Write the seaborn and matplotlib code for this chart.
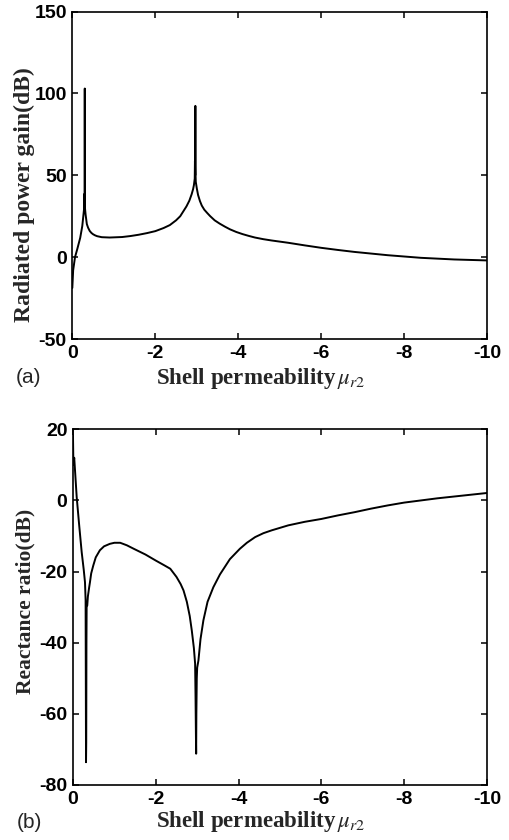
import numpy as np
import pandas as pd
import matplotlib
matplotlib.use("Agg")
import matplotlib.pyplot as plt
import seaborn as sns

# ---- data ----
gain_mu = [0.0, 0.02, 0.065, 0.12, 0.19, 0.24, 0.27, 0.285, 0.29, 0.295, 0.30, 0.305,
           0.32, 0.35, 0.38, 0.42, 0.46, 0.5, 0.55, 0.6, 0.71, 0.9, 1.2, 1.4, 1.6, 1.8,
           2.0, 2.2, 2.35, 2.5, 2.6, 2.68, 2.75, 2.82, 2.875, 2.91,
           2.93, 2.95, 2.955, 2.96, 2.965, 2.97, 2.975, 3.0, 3.03, 3.075, 3.12, 3.18,
           3.25, 3.32, 3.43, 3.55, 3.68, 3.8, 3.95, 4.1, 4.25, 4.4, 4.6, 4.8, 5.2, 5.6,
           6.0, 6.4, 6.8, 7.2, 7.6, 8.0, 8.4, 8.8, 9.2, 9.6, 10.0]
gain_db = [-18.8, -8.0, 0.0, 5.0, 11.8, 19.0, 26.3, 30.0, 38.6, 28.0, 103.0, 30.0,
           26.0, 20.2, 18.0, 16.0, 14.8, 14.0, 13.3, 12.8, 12.2, 12.0, 12.3, 12.9, 13.7, 14.7,
           15.9, 17.8, 19.6, 22.5, 25.0, 28.2, 31.0, 34.5, 38.4, 41.5,
           44.0, 48.0, 58.7, 50.0, 92.4, 50.0, 46.0, 42.0, 38.0, 34.3, 31.5, 29.0,
           27.0, 25.1, 22.5, 20.5, 18.6, 17.0, 15.4, 14.1, 13.0, 12.0, 11.0, 10.2, 8.8, 7.2,
           5.7, 4.4, 3.2, 2.2, 1.2, 0.4, -0.4, -0.9, -1.4, -1.7, -2.0]

react_mu = [0.0, 0.01, 0.03, 0.09, 0.15, 0.21, 0.26, 0.29, 0.305, 0.31, 0.315, 0.32,
            0.325, 0.33, 0.345, 0.36, 0.39, 0.41, 0.44, 0.49, 0.55, 0.65, 0.75, 0.89,
            1.0, 1.14, 1.3, 1.47, 1.75, 2.0, 2.2, 2.35, 2.5, 2.6, 2.67, 2.75, 2.82,
            2.87, 2.92, 2.95, 2.96, 2.97, 2.975, 2.98, 2.99, 3.0, 3.03, 3.08, 3.15,
            3.25, 3.39, 3.55, 3.79, 4.03, 4.2, 4.4, 4.6, 4.8, 5.2, 5.6, 6.0, 6.4, 6.8,
            7.2, 7.6, 8.0, 8.4, 8.8, 9.2, 9.6, 10.0]
react_db = [18.3, 10.0, 12.0, 0.9, -7.0, -14.5, -19.5, -23.0, -28.0, -50.0, -73.6, -68.0,
            -40.0, -30.0, -29.5, -27.0, -24.5, -23.0, -20.5, -18.3, -16.0, -14.0, -12.9, -12.2,
            -11.9, -11.9, -12.6, -13.6, -15.2, -16.9, -18.2, -19.2, -21.5, -23.5, -25.3, -28.5, -32.5,
            -36.6, -41.5, -45.9, -55.0, -66.6, -71.2, -60.0, -50.0, -47.0, -45.0, -39.0, -33.7,
            -28.5, -24.4, -20.8, -16.5, -13.6, -11.9, -10.3, -9.2, -8.4, -7.0, -6.0, -5.2, -4.2, -3.3,
            -2.3, -1.4, -0.6, 0.0, 0.6, 1.1, 1.6, 2.1]

x_ticks = [0, -2, -4, -6, -8, -10]
gain_ticks = [-50, 0, 50, 100, 150]
react_ticks = [-80, -60, -40, -20, 0, 20]

xlabel_text = "Shell permeability" + r"$\,\mu_{r2}$"
ylabel_a = "Radiated power gain(dB)"
ylabel_b = "Reactance ratio(dB)"

df_a = pd.DataFrame({"mu": [-v for v in gain_mu], "db": gain_db})
df_b = pd.DataFrame({"mu": [-v for v in react_mu], "db": react_db})

sns.set_style("ticks")
plt.rcParams["font.family"] = ["Liberation Sans", "DejaVu Sans"]
plt.rcParams["mathtext.fontset"] = "stix"

fig = plt.figure(figsize=(5.1, 8.4), dpi=100)
ax1 = fig.add_axes([0.1418, 0.5964, 0.8137, 0.3898])
ax2 = fig.add_axes([0.1431, 0.0655, 0.8118, 0.4234])

serif = ["Liberation Serif", "DejaVu Serif"]

for ax, df, yt, ylab, ylim, ly, ysize, xl_y in [
    (ax1, df_a, gain_ticks, ylabel_a, (-50, 150), 0.44, 17, 379),
    (ax2, df_b, react_ticks, ylabel_b, (-80, 20), 0.517, 15.5, 822),
]:
    sns.lineplot(data=df, x="mu", y="db", ax=ax, color="black", linewidth=1.4,
                 estimator=None, sort=False)
    ax.set_xlim(0, -10)
    ax.set_ylim(*ylim)
    ax.set_xticks(x_ticks)
    ax.set_yticks(yt)
    ax.set_xticklabels([str(t) for t in x_ticks])
    ax.set_yticklabels([str(t) for t in yt])
    for lab in ax.get_xticklabels() + ax.get_yticklabels():
        lab.set_fontweight("bold")
        lab.set_fontsize(14)
    ax.tick_params(direction="in", length=4.5, width=1.1, top=True, right=True,
                   pad=4, colors="black")
    for s in ax.spines.values():
        s.set_visible(True)
        s.set_linewidth(1.2)
        s.set_color("black")
    ax.set_xlabel(xlabel_text, family=serif, weight="bold", size=16.5, va="center")
    ax.xaxis.set_label_coords(261 / 510, 1 - xl_y / 840, transform=fig.transFigure)
    ax.set_ylabel(ylab, family=serif, weight="bold", size=ysize)
    ax.yaxis.set_label_coords(-0.09, ly)

fig.text(29 / 510, 1 - 378 / 840, "(a)", fontsize=15, ha="center", va="center",
         family=["Liberation Sans", "DejaVu Sans"])
fig.text(29 / 510, 1 - 822 / 840, "(b)", fontsize=15, ha="center", va="center",
         family=["Liberation Sans", "DejaVu Sans"])

fig.savefig("out.png", dpi=100, facecolor="white")
